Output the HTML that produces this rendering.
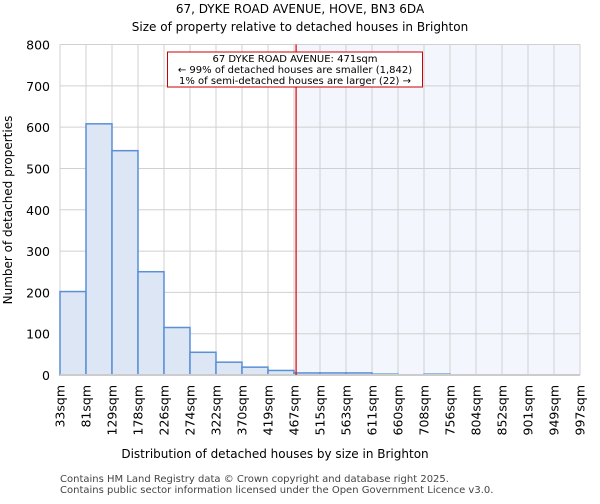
<!DOCTYPE html>
<html><head><meta charset="utf-8"><style>
body{margin:0;background:#fff;font-family:"DejaVu Sans","Liberation Sans",sans-serif}
</style></head><body>
<svg id="c" width="600" height="500" xmlns="http://www.w3.org/2000/svg" font-family="DejaVu Sans, Liberation Sans, sans-serif">
<text x="300" y="13" text-anchor="middle" font-size="12">67, DYKE ROAD AVENUE, HOVE, BN3 6DA</text>
<text x="300" y="31" text-anchor="middle" font-size="12">Size of property relative to detached houses in Brighton</text>
<g id="plot"></g>
<text x="275" y="458" text-anchor="middle" font-size="12">Distribution of detached houses by size in Brighton</text>
<text transform="translate(12,210) rotate(-90)" text-anchor="middle" font-size="12">Number of detached properties</text>
<text x="60" y="482" font-size="10" fill="#444">Contains HM Land Registry data © Crown copyright and database right 2025.</text>
<text x="60" y="493" font-size="10" fill="#444">Contains public sector information licensed under the Open Government Licence v3.0.</text>
</svg>
<script>
const categories=["33sqm","81sqm","129sqm","178sqm","226sqm","274sqm","322sqm","370sqm","419sqm","467sqm","515sqm","563sqm","611sqm","660sqm","708sqm","756sqm","804sqm","852sqm","901sqm","949sqm","997sqm"];
const counts=[202,608,543,250,115,55,31,19,11,5,5,5,2,0,2,0,0,0,0,0];
const yTicks=[0,100,200,300,400,500,600,700,800];
const propertyIndex=9.08;
const NS="http://www.w3.org/2000/svg";
const g=document.getElementById('plot');
const L=60,R=580,T=44.5,B=375,yMax=800;
const bw=(R-L)/counts.length;
const xs=i=>L+i*bw, ys=v=>B-(v/yMax)*(B-T);
function mk(t,a,p){const e=document.createElementNS(NS,t);for(const k in a)e.setAttribute(k,a[k]);(p||g).appendChild(e);return e;}
const px=xs(propertyIndex);
let sh=mk('rect',{x:px,y:T,width:R-px,height:B-T,fill:'#f3f6fd'});


yTicks.forEach(v=>{let l=mk('line',{x1:L,x2:R,y1:ys(v),y2:ys(v),stroke:'#d0d0d0'});


let t=mk('text',{x:L-10,y:ys(v)+5,'text-anchor':'end','font-size':12.5});t.textContent=v;

});
categories.forEach((c,i)=>{let l=mk('line',{x1:xs(i),x2:xs(i),y1:T,y2:B,stroke:'#d0d0d0'});


let t=mk('text',{transform:`translate(${xs(i)+4.5},${B+10}) rotate(-90)`,'text-anchor':'end','font-size':12.5});t.textContent=c;

});
counts.forEach((v,i)=>{if(v<=0)return;let r=mk('rect',{x:xs(i),y:ys(v),width:bw,height:B-ys(v),fill:'#dce6f4',stroke:'#5b8fd6','stroke-width':1.5});

});
let ax=mk('line',{x1:L,x2:R,y1:B,y2:B,stroke:'#ccc','stroke-width':2});


let rl=mk('line',{x1:px,x2:px,y1:T,y2:B,stroke:'#d00','stroke-width':1.2});


let box=mk('rect',{x:167.5,y:52,width:255,height:35,fill:'#fff',stroke:'#c00'});


["67 DYKE ROAD AVENUE: 471sqm","← 99% of detached houses are smaller (1,842)","1% of semi-detached houses are larger (22) →"].forEach((s,k)=>{let t=mk('text',{x:295,y:62+k*11,'text-anchor':'middle','font-size':10});t.textContent=s;

});
</script>
</body></html>
